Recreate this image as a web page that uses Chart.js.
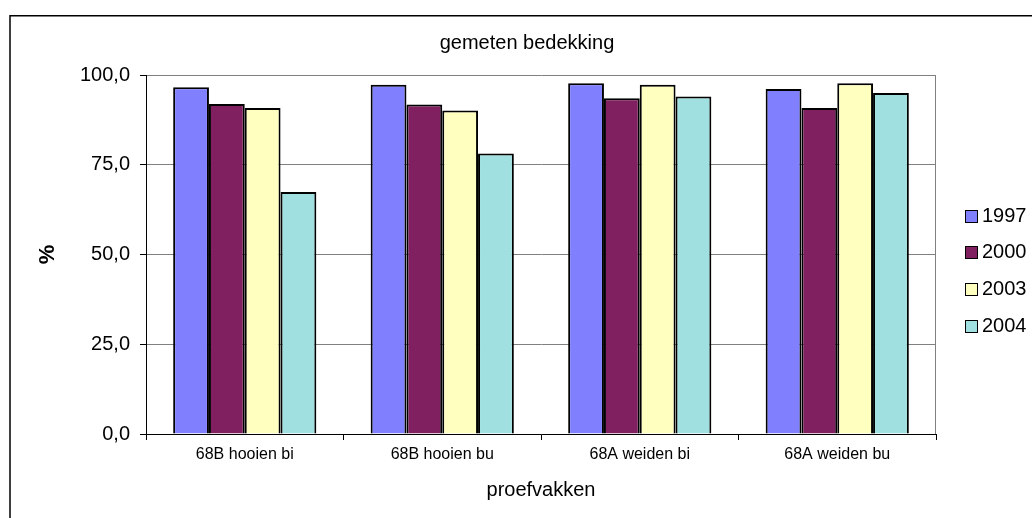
<!DOCTYPE html>
<html>
<head>
<meta charset="utf-8">
<script src="https://cdn.jsdelivr.net/npm/chart.js@4.4.1/dist/chart.umd.min.js"></script>
<style>
  html, body { margin: 0; padding: 0; background: #fff; overflow: hidden; }
  #wrap { width: 1032px; height: 518px; position: relative; }
  canvas { display: block; }
</style>
</head>
<body>
<div id="wrap"><canvas id="c" width="1032" height="518"></canvas></div>
<script>
// Plot sections (proefvakken) and survey years
const categories = ['68B hooien bi', '68B hooien bu', '68A weiden bi', '68A weiden bu'];
const years = ['1997', '2000', '2003', '2004'];

// Measured cover (%) per section, one array per year
const cover1997 = [96.6, 97.3, 97.7, 96.1];
const cover2000 = [91.9, 91.8, 93.5, 90.8];
const cover2003 = [90.8, 90.1, 97.3, 97.7];
const cover2004 = [67.4, 78.1, 94.0, 95.0];

// Value axis ticks
const yTicks = [0, 25, 50, 75, 100];

const chartTitle = 'gemeten bedekking';
const xAxisTitle = 'proefvakken';
const yAxisTitle = '%';

const seriesColors = ['#8080FF', '#802060', '#FFFFC0', '#A0E0E0'];
const FONT = '"Liberation Sans", Arial, sans-serif';

const seriesValues = [cover1997, cover2000, cover2003, cover2004];

// Frame, plot-area edge, title and legend drawn on top of the chart
const framePlugin = {
  id: 'frame',
  afterDraw(chart) {
    const { ctx, chartArea: a } = chart;
    ctx.save();

    // right edge of the plot area
    ctx.strokeStyle = '#808080';
    ctx.lineWidth = 1;
    ctx.beginPath();
    ctx.moveTo(a.right - 0.5, a.top);
    ctx.lineTo(a.right - 0.5, a.bottom);
    ctx.stroke();

    // outer chart border
    ctx.strokeStyle = '#000';
    ctx.lineWidth = 1.5;
    ctx.strokeRect(10, 15.75, 1100, 600);

    // chart title
    ctx.fillStyle = '#000';
    ctx.font = '20px ' + FONT;
    ctx.textAlign = 'center';
    ctx.textBaseline = 'alphabetic';
    ctx.fillText(chartTitle, 527, 49);

    // legend
    ctx.textAlign = 'left';
    ctx.textBaseline = 'middle';
    chart.data.datasets.forEach((ds, i) => {
      const cy = 216 + i * 36.8;
      const bx = 965, by = Math.round(cy - 6.5);
      ctx.fillStyle = ds.backgroundColor;
      ctx.fillRect(bx, by, 13, 13);
      ctx.strokeStyle = '#000';
      ctx.lineWidth = 1;
      ctx.strokeRect(bx + 0.5, by + 0.5, 12, 12);
      ctx.fillStyle = '#000';
      ctx.fillText(ds.label, 982, cy);
    });

    ctx.restore();
  }
};

new Chart(document.getElementById('c'), {
  type: 'bar',
  data: {
    labels: categories,
    datasets: years.map((y, i) => ({
      label: y,
      data: seriesValues[i],
      backgroundColor: seriesColors[i],
      borderColor: '#000',
      borderWidth: 2,
      borderSkipped: 'bottom',
      barPercentage: 1.0,
      categoryPercentage: 0.725
    }))
  },
  options: {
    responsive: false,
    devicePixelRatio: 1,
    animation: false,
    layout: { padding: { top: 75, left: 0, right: 96, bottom: 0 } },
    plugins: {
      legend: { display: false },
      title: { display: false },
      tooltip: { enabled: false }
    },
    scales: {
      x: {
        offset: true,
        grid: {
          display: true,
          offset: true,
          drawOnChartArea: false,
          drawTicks: true,
          tickLength: 6,
          tickColor: '#000',
          color: '#000'
        },
        border: { display: true, color: '#000', width: 1 },
        ticks: {
          color: '#000',
          font: { family: FONT, size: 16 },
          padding: 5,
          maxRotation: 0,
          autoSkip: false
        },
        title: {
          display: true,
          text: xAxisTitle,
          color: '#000',
          font: { family: FONT, size: 20 },
          padding: { top: 0, bottom: 16 }
        },
        afterFit(scale) { scale.height = 84; }
      },
      y: {
        min: 0,
        max: 100,
        afterBuildTicks(scale) { scale.ticks = yTicks.map(v => ({ value: v })); },
        grid: {
          color: '#808080',
          lineWidth: 1,
          drawTicks: true,
          tickLength: 6,
          tickColor: '#000'
        },
        border: { display: true, color: '#000', width: 1 },
        ticks: {
          color: '#000',
          font: { family: FONT, size: 20 },
          padding: 10,
          callback: v => v.toFixed(1).replace('.', ',')
        },
        title: {
          display: true,
          text: yAxisTitle,
          color: '#000',
          font: { family: FONT, size: 22, weight: 'bold' },
          padding: { top: 35, bottom: 0 }
        },
        afterFit(scale) { scale.width = 146; }
      }
    }
  },
  plugins: [framePlugin]
});
</script>
</body>
</html>
